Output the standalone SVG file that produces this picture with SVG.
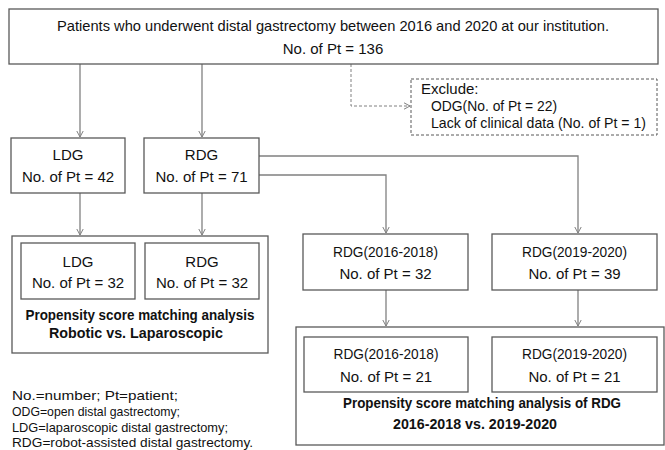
<svg xmlns="http://www.w3.org/2000/svg" width="665" height="450" viewBox="0 0 665 450">
<style>
.box{fill:#fff;stroke:#595959;stroke-width:1.3}
.dbox{fill:#fff;stroke:#595959;stroke-width:1;stroke-dasharray:3,2}
.ln{fill:none;stroke:#808080;stroke-width:1.3}
.dl{fill:none;stroke:#808080;stroke-width:1;stroke-dasharray:3,2}
text{font-family:"Liberation Sans",Arial,sans-serif;font-size:15px;fill:#111}
.c{text-anchor:middle}
.b{font-weight:bold}
.lg{font-size:13.5px}
</style>
<defs>
<marker id="ah" markerUnits="userSpaceOnUse" markerWidth="8" markerHeight="8" viewBox="0 0 8 8" refX="7" refY="4" orient="auto">
<path d="M1,0.8 L7,4 L1,7.2" fill="none" stroke="#808080" stroke-width="1"/>
</marker>
</defs>
<rect width="665" height="450" fill="#fff"/>
<g id="connectors">
<path class="ln" d="M80,64 V137" marker-end="url(#ah)"/>
<path class="ln" d="M202,64 V137" marker-end="url(#ah)"/>
<path class="dl" d="M351,64 V106 H410" marker-end="url(#ah)"/>
<path class="ln" d="M80,193 V235" marker-end="url(#ah)"/>
<path class="ln" d="M202,193 V235" marker-end="url(#ah)"/>
<path class="ln" d="M259,156 H578 V233" marker-end="url(#ah)"/>
<path class="ln" d="M259,175 H386 V233" marker-end="url(#ah)"/>
<path class="ln" d="M386,290 V326" marker-end="url(#ah)"/>
<path class="ln" d="M578,290 V326" marker-end="url(#ah)"/>
</g>
<g id="top">
<rect class="box" x="9" y="9" width="649" height="55"/>
<text class="c" x="333" y="31" textLength="552" lengthAdjust="spacingAndGlyphs">Patients who underwent distal gastrectomy between 2016 and 2020 at our institution.</text>
<text class="c" x="333" y="54">No. of Pt = 136</text>
</g>
<g id="exclude">
<rect class="dbox" x="411" y="79" width="246" height="56"/>
<text x="421" y="94">Exclude:</text>
<text x="431" y="111" textLength="126" lengthAdjust="spacingAndGlyphs">ODG(No. of Pt = 22)</text>
<text x="431" y="128" textLength="215" lengthAdjust="spacingAndGlyphs">Lack of clinical data (No. of Pt = 1)</text>
</g>
<g id="ldg">
<rect class="box" x="11" y="138" width="114" height="55"/>
<text class="c" x="68" y="160">LDG</text>
<text class="c" x="68" y="182">No. of Pt = 42</text>
</g>
<g id="rdg">
<rect class="box" x="144" y="138" width="115" height="55"/>
<text class="c" x="201.5" y="160">RDG</text>
<text class="c" x="201.5" y="182">No. of Pt = 71</text>
</g>
<g id="psm1">
<rect class="box" x="12" y="236" width="256" height="117"/>
<text class="c b" x="140" y="320" textLength="229" lengthAdjust="spacingAndGlyphs">Propensity score matching analysis</text>
<text class="c b" x="136" y="338" textLength="174" lengthAdjust="spacingAndGlyphs">Robotic vs. Laparoscopic</text>
</g>
<g id="ldg32">
<rect class="box" x="21" y="243" width="114" height="56"/>
<text class="c" x="78" y="267">LDG</text>
<text class="c" x="78" y="288">No. of Pt = 32</text>
</g>
<g id="rdg32">
<rect class="box" x="145" y="243" width="114" height="56"/>
<text class="c" x="202" y="267">RDG</text>
<text class="c" x="202" y="288">No. of Pt = 32</text>
</g>
<g id="rdg1618">
<rect class="box" x="303" y="234" width="165" height="56"/>
<text class="c" x="385.5" y="257" textLength="105" lengthAdjust="spacingAndGlyphs">RDG(2016-2018)</text>
<text class="c" x="385.5" y="279">No. of Pt = 32</text>
</g>
<g id="rdg1920">
<rect class="box" x="492" y="234" width="165" height="56"/>
<text class="c" x="574.5" y="257" textLength="105" lengthAdjust="spacingAndGlyphs">RDG(2019-2020)</text>
<text class="c" x="574.5" y="279">No. of Pt = 39</text>
</g>
<g id="psm2">
<rect class="box" x="296" y="327" width="368" height="118"/>
<text class="c b" x="482" y="408" textLength="278" lengthAdjust="spacingAndGlyphs">Propensity score matching analysis of RDG</text>
<text class="c b" x="475" y="429" textLength="164" lengthAdjust="spacingAndGlyphs">2016-2018 vs. 2019-2020</text>
</g>
<g id="rdg1618m">
<rect class="box" x="304" y="337" width="164" height="55"/>
<text class="c" x="386" y="359" textLength="105" lengthAdjust="spacingAndGlyphs">RDG(2016-2018)</text>
<text class="c" x="386" y="382">No. of Pt = 21</text>
</g>
<g id="rdg1920m">
<rect class="box" x="492" y="337" width="165" height="55"/>
<text class="c" x="574.5" y="359" textLength="105" lengthAdjust="spacingAndGlyphs">RDG(2019-2020)</text>
<text class="c" x="574.5" y="382">No. of Pt = 21</text>
</g>
<g id="legend">
<text class="lg" x="12" y="400" textLength="166" lengthAdjust="spacingAndGlyphs">No.=number; Pt=patient;</text>
<text class="lg" x="12" y="416" textLength="168" lengthAdjust="spacingAndGlyphs">ODG=open distal gastrectomy;</text>
<text class="lg" x="12" y="432" textLength="216" lengthAdjust="spacingAndGlyphs">LDG=laparoscopic distal gastrectomy;</text>
<text class="lg" x="12" y="447" textLength="241" lengthAdjust="spacingAndGlyphs">RDG=robot-assisted distal gastrectomy.</text>
</g>
</svg>
